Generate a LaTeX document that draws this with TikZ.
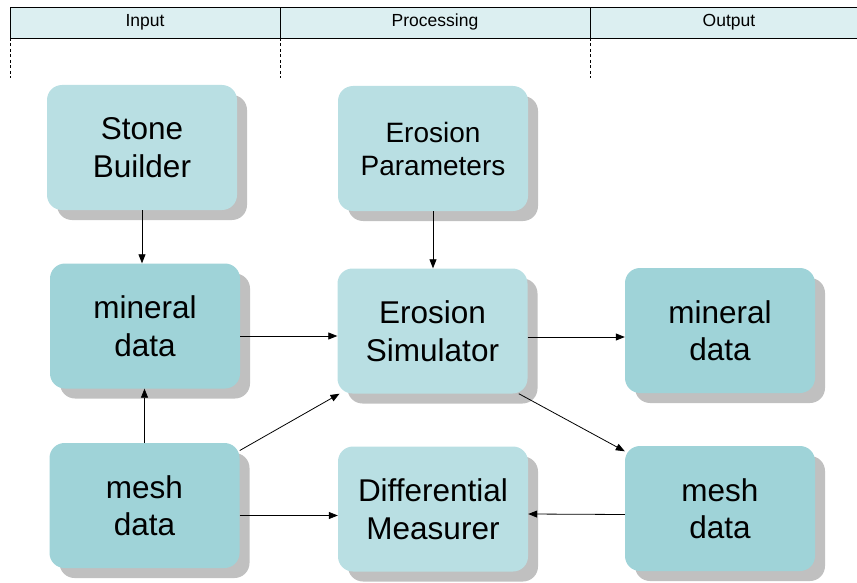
\documentclass[tikz,border=0pt]{standalone}
\usepackage{fontspec}
\setmainfont{Liberation Sans}
\usetikzlibrary{arrows.meta,shadows}
\definecolor{procfill}{HTML}{B9DFE3}
\definecolor{datafill}{HTML}{9FD3D8}
\definecolor{shadowgray}{HTML}{C0C0C0}
\definecolor{headfill}{HTML}{DCEFF1}
\tikzset{
  block/.style={rounded corners=15pt, minimum width=190pt, minimum height=125pt,
    inner sep=0pt, align=center, font=\fontsize{31.5}{37.5}\selectfont,
    drop shadow={fill=shadowgray, opacity=1, shadow xshift=10pt, shadow yshift=-10pt}},
  proc/.style={block, fill=procfill},
  datab/.style={block, fill=datafill},
  arr/.style={-{Triangle[length=9pt,width=7pt]}, line width=0.8pt},
  lane/.style={draw, line width=0.8pt, fill=headfill},
  lanetext/.style={font=\fontsize{17.5}{20}\selectfont},
  lanedash/.style={line width=0.8pt, dash pattern=on 3pt off 2.5pt}
}
\begin{document}
\begin{tikzpicture}[x=1pt,y=-1pt]
\useasboundingbox (0,0) rectangle (857,583);

% swimlane header
\path[lane] (10,7) rectangle (280,38);
\path[lane] (280,7) rectangle (590,38);
\path[lane] (590,7) rectangle (870,38);
\node[lanetext] (hin) at (145,22) {Input};
\node[lanetext] (hproc) at (435,22) {Processing};
\node[lanetext] (hout) at (729,22) {Output};
\draw[lanedash] (10,38) -- (10,78);
\draw[lanedash] (280,38) -- (280,78);
\draw[lanedash] (590,38) -- (590,78);

% blocks
\node[proc] (SB) at (142,147.5) {Stone\\Builder};
\node[proc, font=\fontsize{28}{33}\selectfont] (EP) at (433,148.5) {Erosion\\Parameters};
\node[datab] (MD1) at (145,326) {mineral\\data};
\node[proc] (ES) at (432.5,331) {Erosion\\Simulator};
\node[datab] (MD2) at (720,330.5) {mineral\\data};
\node[datab] (ME1) at (144.5,505.5) {mesh\\data};
\node[proc] (DM) at (433,509) {Differential\\Measurer};
\node[datab] (ME2) at (720,508.5) {mesh\\data};

% connectors
\draw[arr] (SB.south) -- (SB.south |- MD1.north);
\draw[arr] (EP.south) -- (EP.south |- ES.north);
\draw[arr] (ME1.north) -- (ME1.north |- MD1.south);
\draw[arr] ([yshift=-10pt]MD1.east) -- ([yshift=-10pt]MD1.east -| ES.west);
\draw[arr] (ME1.30) -- (ES.214);
\draw[arr] ([yshift=-10pt]ME1.east) -- ([yshift=-10pt]ME1.east -| DM.west);
\draw[arr] ([yshift=-6pt]ES.east) -- ([yshift=-6pt]ES.east -| MD2.west);
\draw[arr] (ES.-36) -- (ME2.149);
\draw[arr] ([yshift=-6pt]ME2.west) -- ([yshift=-5pt]DM.east);
\end{tikzpicture}
\end{document}
